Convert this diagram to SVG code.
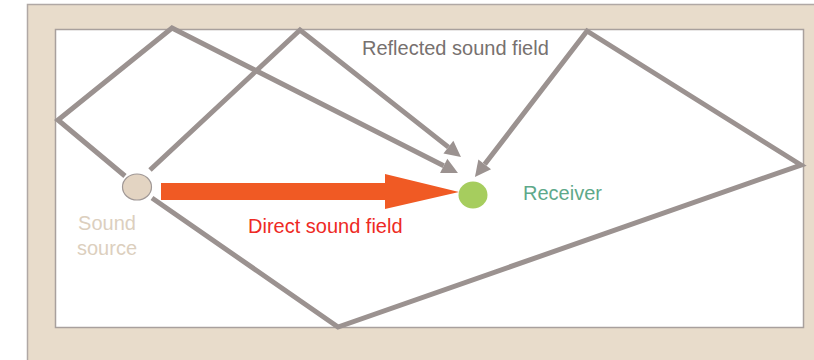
<svg xmlns="http://www.w3.org/2000/svg" width="814" height="360" viewBox="0 0 814 360">
<style>
.ray{fill:none;stroke:#9b9290;stroke-width:5;stroke-linejoin:miter;stroke-miterlimit:10}
.lbl{font-family:"Liberation Sans",Arial,sans-serif;font-size:20px}
</style>
<defs>
<marker id="ah" markerUnits="userSpaceOnUse" markerWidth="20" markerHeight="20" viewBox="0 -10 18 20" refX="0" refY="0" orient="auto">
<path d="M0,-8 L16,0 L0,8 z" fill="#9b9290"/>
</marker>
</defs>
<rect x="27.5" y="4.5" width="800" height="360" fill="#e8dccb" stroke="#b0a8a5" stroke-width="1.5"/>
<rect x="55.5" y="29.5" width="748" height="298" fill="#ffffff" stroke="#a8a09d" stroke-width="1.5"/>
<g id="connectors">
<path class="ray" d="M125,176 L58,120 L172,28 L443.7,165.8" marker-end="url(#ah)"/>
<path class="ray" d="M150,170 L300,30 L448.4,147.1" marker-end="url(#ah)"/>
<path class="ray" d="M152,198 L338,327 L801,165 L587,31 L484.7,164.3" marker-end="url(#ah)"/>
<path id="direct" d="M161,183 L385,183 L385,174 L459,192 L385,209 L385,200 L161,200 z" fill="#f05a24"/>
</g>
<g id="source">
<ellipse cx="137" cy="187" rx="14.5" ry="13" fill="#e3d4c2" stroke="#a09896" stroke-width="1.2"/>
<text class="lbl" x="107" y="230" text-anchor="middle" fill="#dccfbe">Sound</text>
<text class="lbl" x="107" y="255" text-anchor="middle" fill="#dccfbe">source</text>
</g>
<g id="receiver">
<ellipse cx="473" cy="195" rx="14.5" ry="13.5" fill="#a6cd5e"/>
<text class="lbl" x="523" y="200" fill="#5ea98a">Receiver</text>
</g>
<text class="lbl" x="362" y="55" fill="#77716f">Reflected sound field</text>
<text class="lbl" x="248" y="233" fill="#ee2a24">Direct sound field</text>
</svg>
